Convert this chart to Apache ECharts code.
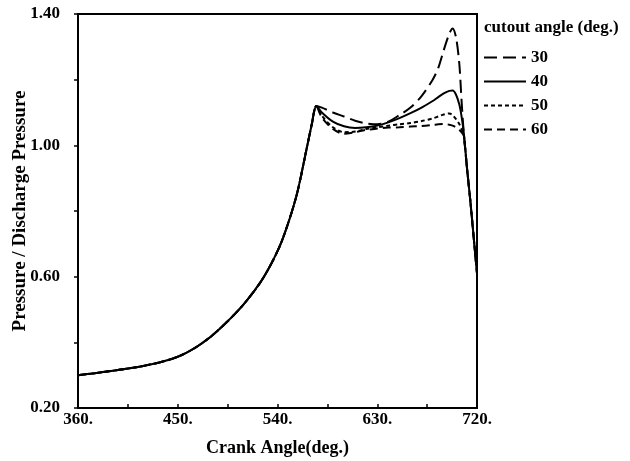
<!DOCTYPE html>
<html>
<head>
<meta charset="utf-8">
<script src="https://cdn.jsdelivr.net/npm/echarts@6/dist/echarts.min.js"></script>
<style>
  html, body { margin: 0; padding: 0; background: #fff; }
  #chart { width: 630px; height: 461px; }
</style>
</head>
<body>
<div id="chart"></div>
<script>
// crank angle samples (deg.)
const angles = [360, 375, 390, 405, 420, 435, 450, 465, 480, 495, 510, 525, 536, 545, 557, 566, 571, 575,
  580, 590, 600, 610, 620, 630, 640, 650, 660, 670, 680, 685, 690, 695, 698, 701, 704, 706, 708,
  711, 714, 717, 720];

// compression part, same for every cutout angle
const rise = [0.300, 0.306, 0.313, 0.320, 0.329, 0.340, 0.356, 0.382, 0.418, 0.464, 0.518, 0.585, 0.650, 0.718, 0.845, 0.985, 1.065, 1.120];

// discharge part, one per cutout angle
const p30 = [1.115, 1.100, 1.088, 1.075, 1.067, 1.064, 1.072, 1.092, 1.115, 1.150, 1.200, 1.235, 1.290, 1.340, 1.356, 1.330, 1.250, 1.140, 1.040];
const p40 = [1.100, 1.072, 1.058, 1.053, 1.055, 1.060, 1.070, 1.083, 1.098, 1.115, 1.135, 1.147, 1.158, 1.166, 1.167, 1.155, 1.125, 1.090, 1.040];
const p50 = [1.090, 1.055, 1.040, 1.042, 1.050, 1.055, 1.060, 1.064, 1.068, 1.074, 1.082, 1.088, 1.094, 1.097, 1.092, 1.080, 1.065, 1.050, 1.035];
const p60 = [1.085, 1.050, 1.035, 1.040, 1.047, 1.051, 1.054, 1.055, 1.057, 1.059, 1.062, 1.064, 1.065, 1.063, 1.060, 1.055, 1.048, 1.040, 1.030];

// end of discharge, same for all
const drop = [0.930, 0.830, 0.720, 0.610];

const cutouts = ['30', '40', '50', '60'];
const dashes = [[13, 6], 'solid', [4, 3], [8, 5]];

const font = 'Liberation Serif';

function buildSeries(mid) {
  const ys = rise.concat(mid, drop);
  return angles.map((a, i) => [a, ys[i]]);
}

const chart = echarts.init(document.getElementById('chart'));

const option = {
  animation: false,
  backgroundColor: '#fff',
  title: {
    text: 'cutout angle (deg.)',
    left: 479,
    top: 14,
    textStyle: { fontFamily: font, fontWeight: 'bold', fontSize: 17, color: '#000' }
  },
  legend: {
    orient: 'vertical',
    left: 478,
    top: 44,
    itemWidth: 42,
    itemHeight: 14,
    itemGap: 7,
    data: cutouts,
    itemStyle: { opacity: 0 },
    textStyle: { fontFamily: font, fontWeight: 'bold', fontSize: 17, color: '#000' }
  },
  grid: {
    left: 78,
    right: 153,
    top: 14,
    bottom: 53,
    outerBoundsMode: 'none',
    show: true,
    borderColor: '#000',
    borderWidth: 2
  },
  xAxis: {
    type: 'value',
    min: 360,
    max: 720,
    interval: 45,
    name: 'Crank Angle(deg.)',
    nameLocation: 'middle',
    nameGap: 31,
    nameTextStyle: { fontFamily: font, fontWeight: 'bold', fontSize: 18, color: '#000' },
    axisLine: { lineStyle: { color: '#000', width: 2 } },
    axisTick: { inside: true, length: 4, lineStyle: { color: '#000', width: 1.5 } },
    splitLine: { show: false },
    axisLabel: {
      fontFamily: font, fontWeight: 'bold', fontSize: 17, color: '#000', margin: 3,
      formatter: v => (v % 90 === 0 ? v + '.' : '')
    }
  },
  yAxis: {
    type: 'value',
    min: 0.2,
    max: 1.4,
    interval: 0.2,
    name: 'Pressure / Discharge Pressure',
    nameLocation: 'middle',
    nameRotate: 90,
    nameGap: 48,
    nameMoveOverlap: false,
    nameTextStyle: { fontFamily: font, fontWeight: 'bold', fontSize: 19, color: '#000' },
    axisLine: { show: true, lineStyle: { color: '#000', width: 2 } },
    axisTick: { show: true, length: 4, lineStyle: { color: '#000', width: 1.5 } },
    splitLine: { show: false },
    axisLabel: {
      fontFamily: font, fontWeight: 'bold', fontSize: 17, color: '#000', margin: 18,
      formatter: (v, i) => (i % 2 === 0 ? v.toFixed(2) : '')
    }
  },
  series: [p30, p40, p50, p60].map((mid, k) => ({
    name: cutouts[k],
    type: 'line',
    data: buildSeries(mid),
    smooth: 0.3,
    symbol: 'none',
    lineStyle: { color: '#000', width: 2, type: dashes[k] },
    itemStyle: { color: '#000' },
    z: 4 - k
  }))
};

chart.setOption(option);
</script>
</body>
</html>
